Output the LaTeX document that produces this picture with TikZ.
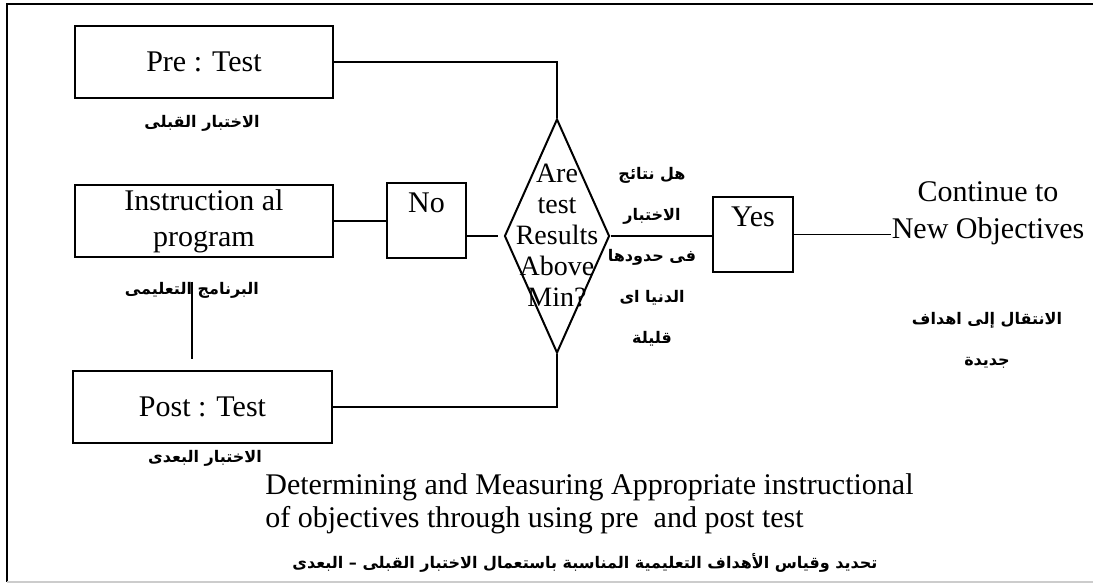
\documentclass[tikz,border=0pt]{standalone}
\usepackage{fontspec}
\setmainfont{Liberation Serif}
\newfontfamily\arabicfont[Script=Arabic]{DejaVu Sans}
\TeXXeTstate=1
\usetikzlibrary{shapes.geometric}
\newcommand{\artxt}[1]{{\arabicfont\bfseries\beginR #1\endR}}

\begin{document}
\begin{tikzpicture}[x=0.5pt,y=-0.5pt,
  box/.style={draw,line width=1pt,inner sep=0pt,font=\fontsize{15}{18}\selectfont},
  toptext/.style={anchor=north,inner sep=5pt,font=\fontsize{15}{18}\selectfont},
  decision/.style={diamond,draw,line width=1pt,inner sep=0pt,minimum width=52.5pt,minimum height=117pt},
  artext/.style={inner sep=0pt,font=\fontsize{8}{20.5}\selectfont},
  conn/.style={line width=0.9pt}]
\useasboundingbox (0,0) rectangle (1093,585);
% frame
\draw[line width=1pt] (1093,4) -- (7,4) -- (7,582);
\draw[gray!40,line width=1pt] (7,582) -- (1093,582);
% boxes
\node[box,minimum width=129pt,minimum height=36pt] (pre) at (204,62) {Pre : Test};
\node[box,minimum width=129pt,minimum height=36pt,align=center] (instr) at (204,221) {Instruction al\\program};
\node[box,minimum width=129.5pt,minimum height=36pt] (post) at (202.5,407) {Post : Test};
\node[box,minimum width=39.5pt,minimum height=37.5pt,
  label={[name=notext,toptext]north:No}] (no) at (426.5,220.5) {};
\node[box,minimum width=40pt,minimum height=37.5pt,
  label={[name=yestext,toptext]north:Yes}] (yes) at (753,234.5) {};
\node[decision] (dec) at (557,236) {};
\node[align=center,inner sep=0pt,font=\fontsize{14}{15.5}\selectfont] (dectext) at (557,235) {Are\\test\\Results\\Above\\Min?};
\node[align=center,inner sep=0pt,font=\fontsize{15}{18.5}\selectfont] (cont) at (988,213.5) {Continue to\\New Objectives};
% arabic labels
\node[artext] (prear) at (202,123) {\artxt{الاختبار القبلى}};
\node[artext] (instrar) at (192,290) {\artxt{البرنامج التعليمى}};
\node[artext] (postar) at (205,458) {\artxt{الاختبار البعدى}};
\node[artext,align=center] (decar) at (652,257) {\artxt{هل نتائج}\\\artxt{الاختبار}\\\artxt{فى حدودها}\\\artxt{الدنيا اى}\\\artxt{قليلة}};
\node[artext,align=center] (contar) at (987,340.5) {\artxt{الانتقال إلى اهداف}\\\artxt{جديدة}};
% caption
\node[anchor=west,align=left,inner sep=0pt,font=\fontsize{15}{16.5}\selectfont] (caption) at (265,503.5) {Determining and Measuring Appropriate instructional\\of objectives through using pre\ \ and post test};
\node[artext] (captionar) at (585,563) {\artxt{تحديد  وقياس الأهداف التعليمية المناسبة باستعمال الاختبار القبلى – البعدى}};
% connectors
\draw[conn] (pre.east) -| (dec.north);
\draw[conn] (instr.east) -- (instr.east -| no.west);
\draw[conn,shorten <=3pt] (dec.west) -- (dec.west -| no.east);
\draw[conn] (dec.east) -- (dec.east -| yes.west);
\draw[conn] (yes.east) -- (yes.east -| cont.west);
\draw[conn] (dec.south) |- (post.east);
\draw[conn,shorten >=5.5pt] (instrar.north) -- (instrar.north |- post.north);
\end{tikzpicture}
\end{document}
